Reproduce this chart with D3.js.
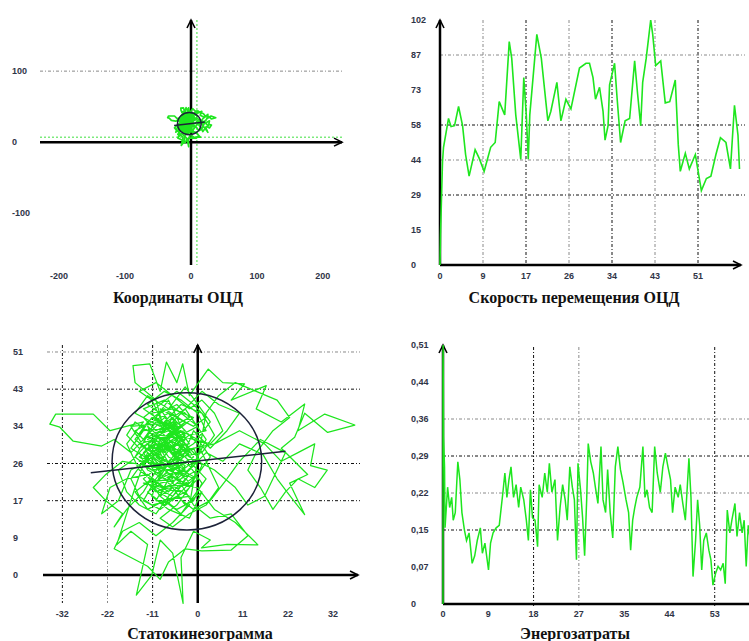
<!DOCTYPE html>
<html>
<head>
<meta charset="utf-8">
<script src="https://cdn.jsdelivr.net/npm/d3@7"></script>
<style>
  body { margin: 0; background: #fff; }
  text { font-family: "Liberation Sans", Arial, sans-serif; }
</style>
</head>
<body>
<svg id="chart" width="749" height="641"></svg>
<script>
// ---- data ----

// COP trajectory (statokinesigram), [x, y] in mm
const copPath = [
  [-3,27],[-8,31],[-5,35],[-12,30],[-9,24],[-14,27],[-6,33],[-2,29],[-10,36],[-7,40],[-4,34],[-13,33],[-16,29],[-11,26],[-5,22],[-1,25],[2,31],[-3,38],[-9,34],[-15,37],[-12,41],[-7,38],[-3,43],[0,39],[3,35],[-1,30],[-6,27],[-10,21],[-14,24],[-17,30],[-13,35],
  [-21,33],[-25,36.8],[-34,36.8],[-35.4,34.5],[-33,33.8],[-29.8,30.6],[-23,29.5],[-20,31],[-16,28],
  [-12,32],[-8,28],[-4,31],[0,27],[-3,23],[-7,19],[-11,22],[-15,19],[-12,15],[-8,17],[-4,14],[-1,18],[2,22],[-2,26],[-6,24],[-9,29],[-5,33],[-1,36],[-6,38],[-11,37],[-8,33],
  [-10,40],[-15,44],[-15.5,47.9],[-11.5,48.3],[-9,42],[-7.5,48.7],[-5,44],[-3.6,48.3],[-2,41],[2.5,47.1],[6,44],[11.2,43.7],[8,40],[16.4,43.3],[14,38],[20,35],[25.6,39.1],[24,33],[30.4,36.8],[37.6,34.3],[31.1,32.6],[25.6,37],[23.2,31.5],[20,29],[26.3,23],[22,21],[25.6,13.8],[22.4,17.7],[19,22],[15.6,27.6],[10,30],[6,26],[2,28],
  [-2,24],[-6,20],[-3,16],[1,19],[-2,13],[-7,15],[-11,18],[-9,23],[-13,25],[-10,30],[-6,29],[-3,32],[-8,35],[-4,39],[1,37],[4,32],[1,28],[-4,27],[-8,25],[-12,28],
  [-15,20],[-19.4,6.9],[-16,10],[-12,7],[-14.7,-4.6],[-11,0],[-9,8],[-6,5],[-3.5,-6.5],[-4,4],[-1,10],[3,8],[0.9,6.2],[7,7],[14.4,6.9],[9,12],[4,15],[0,20],
  [-5,21],[-9,18],[-6,24],[-10,27],[-7,31],[-3,29],[-6,26],[-2,21],[-8,20],[-12,23],[-17,22],[-21,20],[-23,14],[-19,17],[-16,24],[-12,26],[-8,30],[-4,26],[-1,33],[3,29],[7,33],[10,37],[5,39],[1,42],[-4,37],[-7,34],[-11,36],[-14,32],[-10,28],[-5,30],[-2,27],
  [4,24],[9,20],[12,16],[16,18],[19,24],[21,28],[15,31],[10,26],[7,22],[3,17],[-1,15],[-5,18],[-9,15],[-13,17],[-10,22],[-6,27],[-3,31],[-9,32],[-6,36],[-3,33],
  [-14,30],[-8,26],[-12,34],[-5,28],[-10,32],[-3,24],[-9,27],[-15,33],[-7,37],[-2,30],[-11,29],[-6,22],[-13,21],[-4,19],[-8,23],[-1,27],[-9,38],[-3,35],[-12,27],[-7,21],[-2,18],[-10,17],[-5,25],[-14,26],[-6,31],[0,34],[-8,40],[-13,38],[-4,32],[-9,26],[-1,22],[-6,17],[-11,20],[-3,28],[-7,33],[-12,31],[-5,35],[-16,34],[-10,25],[-4,23],
  [-6,30],[-9,33],[-13,31],[-10,35],[-6,34],[-2,36],[-5,39],[-9,37],[-12,39],[-8,42],[-4,40],[0,37],[2,33],[-2,32],[-6,29],[-11,31],[-14,28],[-12,24],[-8,22],[-4,24],[0,22],[-3,19],[-7,17],[-11,16],[-14,18],[-16,22],[-13,26],[-9,30],[-5,27],[-1,29],[1,25],[-2,20],[-5,16],[-9,13],[-6,11],[-2,14],[2,16],[5,20],[3,24],[0,30],
  [-4,34],[-8,31],[-12,33],[-15,35],[-17,32],[-14,29],[-10,31],[-7,27],[-3,25],[-6,21],[-10,19],[-13,22],[-9,25],[-5,23],[-1,26],[-4,30],[-8,34],[-11,40],[-14,42],[-10,44],[-6,41],[-2,38],[1,40],[4,37],[6,33],[3,30],[-1,31],[-5,32],[-9,28],[-12,30],[-16,26],[-19,24],[-17,19],[-14,16],[-10,14],[-7,18],[-4,21],[-8,24],[-11,27],[-7,29],
  [-3,27],[0,24],[-4,22],[-9,21],[-12,19],[-8,16],[-5,19],[-2,23],[-6,26],[-10,23],[-13,28],[-9,32],[-5,36],[-1,34],[2,36],[-1,39],[-5,42],[-9,39],[-13,36],[-10,33],[-6,35],[-3,30],[-7,25],[-11,24],[-15,27],[-12,32],[-8,36],[-4,33],[0,31],[3,27],[0,23],[-3,21],[-7,23],[-11,21],[-9,18],[-5,15],[-1,17],[1,21],[-2,25],[-6,28],
  [4,30],[10,33],[16,30],[20,26],[24,28],[28,30],[27,25],[31,24],[28,20],[24,22],[21,19],[18,15],[15,20],[12,24],[14,28],[18,33],[22,36],[19,40],[14,42],[9,44],[5,41],[2,37],
  [-2,16],[-6,12],[-10,9],[-14,12],[-18,10],[-20,6],[-16,4],[-12,2],[-9,-1],[-7,3],[-3,6],[1,5.5],[8,5.7],[12,9],[8,14],[3,13],[-1,16],
  [-6,24],[-12,25],[-18,26],[-22,23],[-25,20],[-22,17],[-18,14],[-20,11],[-17,15],[-13,19],
  [-8,27],[-12,29],[-7,32],[-3,35],[-8,38],[-12,35],[-15,31],[-11,28],[-6,25],[-2,28],[-5,31],[-10,29],[-14,25],[-10,20],[-6,18],[-3,22],[-7,26],[-4,29]
];
// confidence ellipse and main axis of the trajectory
const copEllipse = [-2.6, 26, 17.9, 15.7];   // cx, cy, rx, ry
const copAxisLine = [[-25.6, 23.4], [21, 28.3]];
// green centre lines on the coordinate plot
const copMeanX = 9;
const copMeanY = 7;

// COP velocity, [time s, value]
const velocity = [
  [0,0],[0.1,12.5],[0.5,43],[0.7,49],[1.7,61],[2.2,57.6],[2.9,58],[3.7,66],[4.5,58],[5.1,46],[5.8,37],[7.0,48],[7.8,44.5],[8.8,39],[10.1,49],[11.0,51],[11.8,68],[12.9,62.5],[13.8,93],[14.3,86],
  [15.1,62.5],[16.1,44],[16.7,78],[17.2,62.5],[17.6,44],[17.9,62.5],[19.3,96],[20.2,86],[21.5,60],[22.1,64],[23.3,76],[24.1,60],[25.1,69],[26.1,65],[27.8,82],[29.1,84],[29.8,84],[30.5,78],[31.0,69],[31.8,74],
  [32.5,64],[32.9,52],[33.5,58],[33.8,75],[34.8,84],[35.3,69.5],[36.0,51],[36.9,60],[37.8,61],[38.8,85],[39.4,71],[40.0,58],[40.4,76],[41.1,86],[42.0,102],[42.4,96],[43.0,83],[44.0,85],[44.9,67.5],[45.8,68],
  [46.9,77],[47.5,50],[47.9,39],[48.9,46.5],[49.7,40],[50.9,46],[51.7,36],[52.1,31],[53.1,36],[54.0,37],[55.0,46],[55.9,53],[57.0,51],[57.9,40],[58.7,66.5],[59.4,54],[59.7,40]
];

// energy expenditure, [time s, value]
const energy = [
  [0,0],[0,0.48],[0.02,0.51],[0.1,0.33],[0.3,0.27],[0.4,0.15],[0.9,0.23],[1.3,0.19],[1.7,0.21],[2.0,0.165],[2.4,0.18],[2.9,0.28],[3.3,0.245],[3.7,0.18],[4.2,0.145],[4.6,0.125],[5.1,0.14],[5.7,0.08],[6.2,0.095],[6.7,0.125],
  [7.3,0.15],[7.7,0.10],[8.2,0.12],[8.9,0.067],[9.3,0.12],[9.8,0.14],[10.4,0.15],[11.0,0.155],[11.7,0.218],[12.1,0.258],[12.5,0.21],[12.9,0.245],[13.3,0.27],[13.8,0.21],[14.3,0.235],[14.8,0.19],[15.2,0.23],[15.8,0.205],[16.3,0.165],[16.7,0.125],
  [17.1,0.225],[17.5,0.17],[18.0,0.165],[18.5,0.113],[18.8,0.235],[19.4,0.21],[19.9,0.258],[20.4,0.22],[20.8,0.277],[21.3,0.22],[21.9,0.245],[22.4,0.125],[22.9,0.19],[23.4,0.235],[23.9,0.205],[24.3,0.165],[24.8,0.27],[25.3,0.23],[25.7,0.205],[26.1,0.087],
  [26.4,0.277],[26.9,0.225],[27.3,0.17],[27.7,0.095],[28.1,0.205],[28.4,0.316],[28.9,0.28],[29.4,0.258],[29.8,0.23],[30.3,0.198],[30.9,0.31],[31.3,0.205],[31.8,0.18],[32.2,0.265],[32.7,0.18],[33.2,0.13],[33.7,0.27],[34.2,0.31],[34.7,0.265],[35.2,0.24],
  [35.8,0.205],[36.3,0.18],[36.7,0.106],[37.1,0.165],[37.5,0.19],[37.9,0.21],[38.5,0.23],[39.1,0.31],[39.5,0.21],[39.9,0.225],[40.4,0.19],[40.9,0.18],[41.4,0.31],[41.9,0.258],[42.5,0.22],[43.0,0.27],[43.5,0.297],[44.0,0.27],[44.5,0.245],[44.9,0.18],
  [45.4,0.23],[46.0,0.21],[46.4,0.235],[46.9,0.198],[47.4,0.165],[48.1,0.287],[48.5,0.21],[48.9,0.054],[49.4,0.125],[49.8,0.205],[50.2,0.155],[50.6,0.067],[51.0,0.125],[51.5,0.14],[52.0,0.106],[52.4,0.087],[52.8,0.037],[53.3,0.06],[53.8,0.074],[54.3,0.067],
  [54.8,0.08],[55.2,0.04],[55.6,0.185],[56.1,0.14],[56.5,0.165],[57.1,0.198],[57.5,0.133],[58.0,0.18],[58.5,0.14],[58.9,0.165],[59.3,0.074],[59.7,0.155],[60.2,0.12],[60.6,0.17]
];

// tick labels (value, label)
const coordXTicks = [[-200,"-200"],[-100,"-100"],[0,"0"],[100,"100"],[200,"200"]];
const coordYTicks = [[100,"100"],[0,"0"],[-100,"-100"]];
const velXTicks = ["0","9","17","26","34","43","51"];        // step 60/7
const velYTicks = ["0","15","29","44","58","73","87","102"];  // step 102/7
const statoXTicks = ["-32","-22","-11","0","11","22","32"];   // step 10.8
const statoYTicks = ["0","9","17","26","34","43","51"];       // step 51/6
const enXTicks = ["0","9","18","27","35","44","53"];          // step 62/7
const enYTicks = ["0","0,07","0,15","0,22","0,29","0,36","0,44","0,51"]; // step 0.51/7

const titles = ["Координаты ОЦД", "Скорость перемещения ОЦД", "Статокинезограмма", "Энергозатраты"];

// ---- drawing ----
const svg = d3.select("#chart");
const GREEN = "#1ee61e";

// dash-dot grid line, dark or light
function gridLine(x1, y1, x2, y2, dark) {
  svg.append("line")
    .attr("x1", x1).attr("y1", y1).attr("x2", x2).attr("y2", y2)
    .attr("stroke", dark ? "#111" : "#8a8a8a")
    .attr("stroke-width", 1)
    .attr("stroke-dasharray", "3,2,1,2");
}

// thick axis line with an open arrow at the end
function axisX(x1, x2, y) {
  svg.append("line").attr("x1", x1).attr("x2", x2).attr("y1", y).attr("y2", y)
    .attr("stroke", "#000").attr("stroke-width", 2.5);
  svg.append("path").attr("d", `M${x2 - 8},${y - 4}L${x2},${y}L${x2 - 8},${y + 4}`)
    .attr("fill", "none").attr("stroke", "#000").attr("stroke-width", 1.6);
}
function axisY(x, y1, y2) {
  svg.append("line").attr("x1", x).attr("x2", x).attr("y1", y1).attr("y2", y2)
    .attr("stroke", "#000").attr("stroke-width", 2.5);
  svg.append("path").attr("d", `M${x - 4},${y2 + 8}L${x},${y2}L${x + 4},${y2 + 8}`)
    .attr("fill", "none").attr("stroke", "#000").attr("stroke-width", 1.6);
}

function tickLabel(x, y, txt, anchor) {
  svg.append("text")
    .attr("x", x).attr("y", y)
    .attr("text-anchor", anchor)
    .attr("font-size", 9)
    .attr("font-weight", "bold")
    .attr("fill", "#2f3447")
    .text(txt);
}

function title(x, y, txt) {
  svg.append("text")
    .attr("x", x).attr("y", y)
    .attr("text-anchor", "middle")
    .style("font-family", "'Liberation Serif', 'Times New Roman', serif")
    .attr("font-size", 16)
    .attr("font-weight", "bold")
    .attr("fill", "#111")
    .text(txt);
}

// draws the COP trajectory, ellipse and axis line with given scales
function drawCop(x, y, strokeW) {
  const line = d3.line().x(d => x(d[0])).y(d => y(d[1]));
  svg.append("path").attr("d", line(copPath))
    .attr("fill", "none").attr("stroke", GREEN)
    .attr("stroke-width", strokeW).attr("stroke-linejoin", "round");
  svg.append("ellipse")
    .attr("cx", x(copEllipse[0])).attr("cy", y(copEllipse[1]))
    .attr("rx", x(copEllipse[0] + copEllipse[2]) - x(copEllipse[0]))
    .attr("ry", y(copEllipse[1]) - y(copEllipse[1] + copEllipse[3]))
    .attr("fill", "none").attr("stroke", "#1c2238").attr("stroke-width", 1.5);
  svg.append("path").attr("d", line(copAxisLine))
    .attr("fill", "none").attr("stroke", "#1c2238").attr("stroke-width", 1.5);
}

// Panel 1: COP coordinates -------
{
  const x = d3.scaleLinear().domain([-229, 229]).range([40, 342]);
  const y = d3.scaleLinear().domain([-173, 172]).range([265, 20]);
  gridLine(40, y(100), 343, y(100), false);
  // green centre lines
  svg.append("line").attr("x1", 40).attr("x2", 342).attr("y1", y(copMeanY)).attr("y2", y(copMeanY))
    .attr("stroke", "#3ee03e").attr("stroke-width", 1).attr("stroke-dasharray", "2,2");
  svg.append("line").attr("x1", x(copMeanX)).attr("x2", x(copMeanX)).attr("y1", 20).attr("y2", 265)
    .attr("stroke", "#3ee03e").attr("stroke-width", 1).attr("stroke-dasharray", "2,2");
  axisX(40, 342, y(0));
  axisY(x(0), 265, 20);
  drawCop(x, y, 1.7);
  coordYTicks.forEach(([v, t]) => tickLabel(12, y(v) + 3, t, "start"));
  coordXTicks.forEach(([v, t]) => tickLabel(x(v), 279, t, "middle"));
  title(178, 303, titles[0]);
}

// Panel 2: COP velocity -------
{
  const x = d3.scaleLinear().domain([0, 60]).range([440, 741]);
  const y = d3.scaleLinear().domain([0, 102]).range([265, 20]);
  const xStep = 60 / 7, yStep = 102 / 7;
  [[1, false], [2, true], [3, false], [4, true], [5, false], [6, true]].forEach(([i, dark]) =>
    gridLine(x(i * xStep), 20, x(i * xStep), 265, dark));
  [[6, false], [4, true], [3, false], [2, true]].forEach(([i, dark]) =>
    gridLine(440, y(i * yStep), 745, y(i * yStep), dark));
  axisX(440, 741, 265);
  axisY(440, 265, 20);
  const line = d3.line().x(d => x(d[0])).y(d => y(d[1]));
  svg.append("path").attr("d", line(velocity))
    .attr("fill", "none").attr("stroke", GREEN).attr("stroke-width", 1.6);
  velYTicks.forEach((t, i) => tickLabel(411, y(i * yStep) + 3, t, "start"));
  velXTicks.forEach((t, i) => tickLabel(x(i * xStep), 279, t, "middle"));
  title(574, 303, titles[1]);
}

// Panel 3: statokinesigram -------
{
  const x = d3.scaleLinear().domain([-36.8, 38.6]).range([44, 359]);
  const y = d3.scaleLinear().domain([-6.4, 52.6]).range([603, 345]);
  const xStep = 10.8, yStep = 8.5;
  [[-3, true], [-2, false], [-1, true]].forEach(([i, dark]) =>
    gridLine(x(i * xStep), 345, x(i * xStep), 603, dark));
  [[6, false], [5, true], [3, true], [2, true]].forEach(([i, dark]) =>
    gridLine(47, y(i * yStep), 360, y(i * yStep), dark));
  axisX(43, 358, y(0));
  axisY(x(0), 603, 345);
  drawCop(x, y, 1.25);
  statoYTicks.forEach((t, i) => tickLabel(13, y(i * yStep) + 3, t, "start"));
  statoXTicks.forEach((t, i) => tickLabel(x((i - 3) * xStep), 617, t, "middle"));
  title(200, 639, titles[2]);
}

// Panel 4: energy -------
{
  const x = d3.scaleLinear().domain([0, 62]).range([443, 760]);
  const y = d3.scaleLinear().domain([0, 0.51]).range([604, 345]);
  const xStep = 62 / 7, yStep = 0.51 / 7;
  [[2, true], [3, false], [6, true]].forEach(([i, dark]) =>
    gridLine(x(i * xStep), 347, x(i * xStep), 607, dark));
  [[5, false], [4, true], [3, false], [2, true]].forEach(([i, dark]) =>
    gridLine(443, y(i * yStep), 749, y(i * yStep), dark));
  axisX(443, 760, 604);
  axisY(443, 604, 345);
  const line = d3.line().x(d => x(d[0])).y(d => y(d[1]));
  svg.append("path").attr("d", line(energy))
    .attr("fill", "none").attr("stroke", GREEN).attr("stroke-width", 1.5);
  enYTicks.forEach((t, i) => tickLabel(411, y(i * yStep) + 3, t, "start"));
  enXTicks.forEach((t, i) => tickLabel(x(i * xStep), 617, t, "middle"));
  title(575, 639, titles[3]);
}
</script>
</body>
</html>
